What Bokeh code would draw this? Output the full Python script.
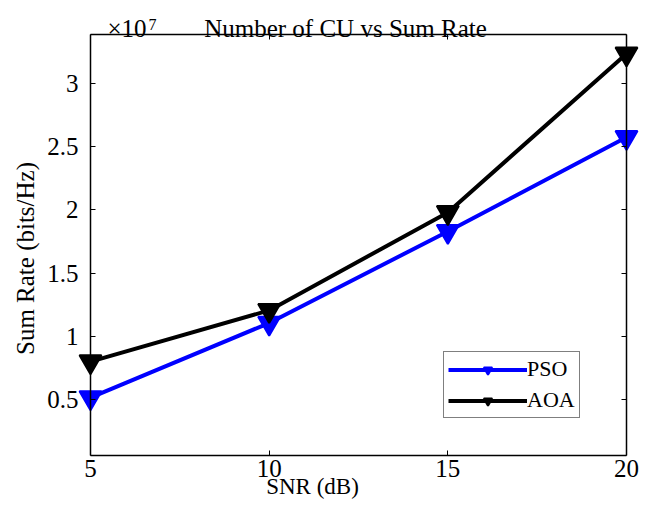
from bokeh.plotting import figure
from bokeh.models import (Range1d, Label, Legend, LegendItem, FixedTicker, LinearAxis,
                          CustomJSTickFormatter)
from bokeh.embed import file_html
from bokeh.resources import INLINE

snr = [5, 10, 15, 20]
pso = [0.515, 1.105, 1.83, 2.575]
aoa = [0.80, 1.205, 1.98, 3.235]
x_ticks = [5, 10, 15, 20]
y_ticks = [0.5, 1, 1.5, 2, 2.5, 3]
X_LO, X_HI = 5, 20
Y_LO, Y_HI = 0.057, 3.388

FONT = "Liberation Serif"
W, H = 643, 501
# pixel box of the axes (layout only)
BOX_L, BOX_R, BOX_T, BOX_B = 90, 626, 34, 455
xs = (BOX_R - BOX_L) / (X_HI - X_LO)
ys = (BOX_B - BOX_T) / (Y_HI - Y_LO)
x_range = Range1d(X_LO - BOX_L / xs, X_HI + (W - BOX_R) / xs)
y_range = Range1d(Y_LO - (H - BOX_B) / ys, Y_HI + BOX_T / ys)

p = figure(width=W, height=H, output_backend="svg", toolbar_location=None,
           x_range=x_range, y_range=y_range, x_axis_location=None, y_axis_location=None,
           min_border=0, title=None)
p.grid.visible = False
p.outline_line_color = None


def style(ax, labels=True):
    ax.axis_line_color = "black"
    ax.axis_line_width = 1.5
    ax.major_tick_in = 5
    ax.major_tick_out = 0
    ax.minor_tick_in = 0
    ax.minor_tick_out = 0
    ax.major_tick_line_color = "black"
    ax.major_label_text_font = FONT
    ax.major_label_text_font_size = "25px"
    ax.major_label_text_color = "black"
    if not labels:
        ax.formatter = CustomJSTickFormatter(code="return ''")


bottom = LinearAxis(fixed_location=Y_LO, bounds=(X_LO, X_HI), ticker=FixedTicker(ticks=x_ticks))
style(bottom)
bottom.major_label_standoff = 4
left = LinearAxis(fixed_location=X_LO, bounds=(Y_LO, Y_HI), ticker=FixedTicker(ticks=y_ticks))
style(left)
left.major_label_standoff = 12
top = LinearAxis(fixed_location=Y_HI, bounds=(X_LO, X_HI), ticker=FixedTicker(ticks=x_ticks))
style(top, labels=False)
right = LinearAxis(fixed_location=X_HI, bounds=(Y_LO, Y_HI), ticker=FixedTicker(ticks=y_ticks))
style(right, labels=False)
p.add_layout(bottom, "below")
p.add_layout(left, "left")
p.add_layout(top, "above")
p.add_layout(right, "right")

r_pso = p.line(snr, pso, line_color="#0000FF", line_width=4)
m_pso = p.scatter(snr, pso, marker="inverted_triangle", size=22, line_color="#0000FF",
                  fill_color="#0000FF", line_width=2)
r_aoa = p.line(snr, aoa, line_color="black", line_width=4)
m_aoa = p.scatter(snr, aoa, marker="inverted_triangle", size=22, line_color="black",
                  fill_color="black", line_width=2)

legend = Legend(items=[LegendItem(label="PSO", renderers=[r_pso, m_pso]),
                       LegendItem(label="AOA", renderers=[r_aoa, m_aoa])],
                location=(443, H - 418), margin=0, padding=4, spacing=5,
                glyph_width=79, glyph_height=21, label_standoff=0,
                label_text_font=FONT, label_text_font_size="22px",
                label_text_color="black",
                border_line_color="black", border_line_width=1.5,
                background_fill_alpha=1)
p.add_layout(legend, "center")

TXT = dict(x_units="screen", y_units="screen", text_font=FONT, text_color="black")
p.add_layout(Label(x=345, y=H - 28, text="Number of CU vs Sum Rate", text_align="center",
                   text_baseline="alphabetic", text_font_size="25px", **TXT))
p.add_layout(Label(x=107, y=H - 28, text="×10", text_align="left",
                   text_baseline="alphabetic", text_font_size="25px", **TXT))
p.add_layout(Label(x=148, y=H - 24, text="7", text_align="left",
                   text_baseline="alphabetic", text_font_size="16px", **TXT))
p.add_layout(Label(x=312, y=15, text="SNR (dB)", text_align="center",
                   text_baseline="middle", text_font_size="23px", **TXT))
p.add_layout(Label(x=25, y=H - 258, text="Sum Rate (bits/Hz)", text_align="center",
                   text_baseline="middle", angle=90, angle_units="deg",
                   text_font_size="25px", **TXT))

open("out.html", "w").write(file_html(p, INLINE))
